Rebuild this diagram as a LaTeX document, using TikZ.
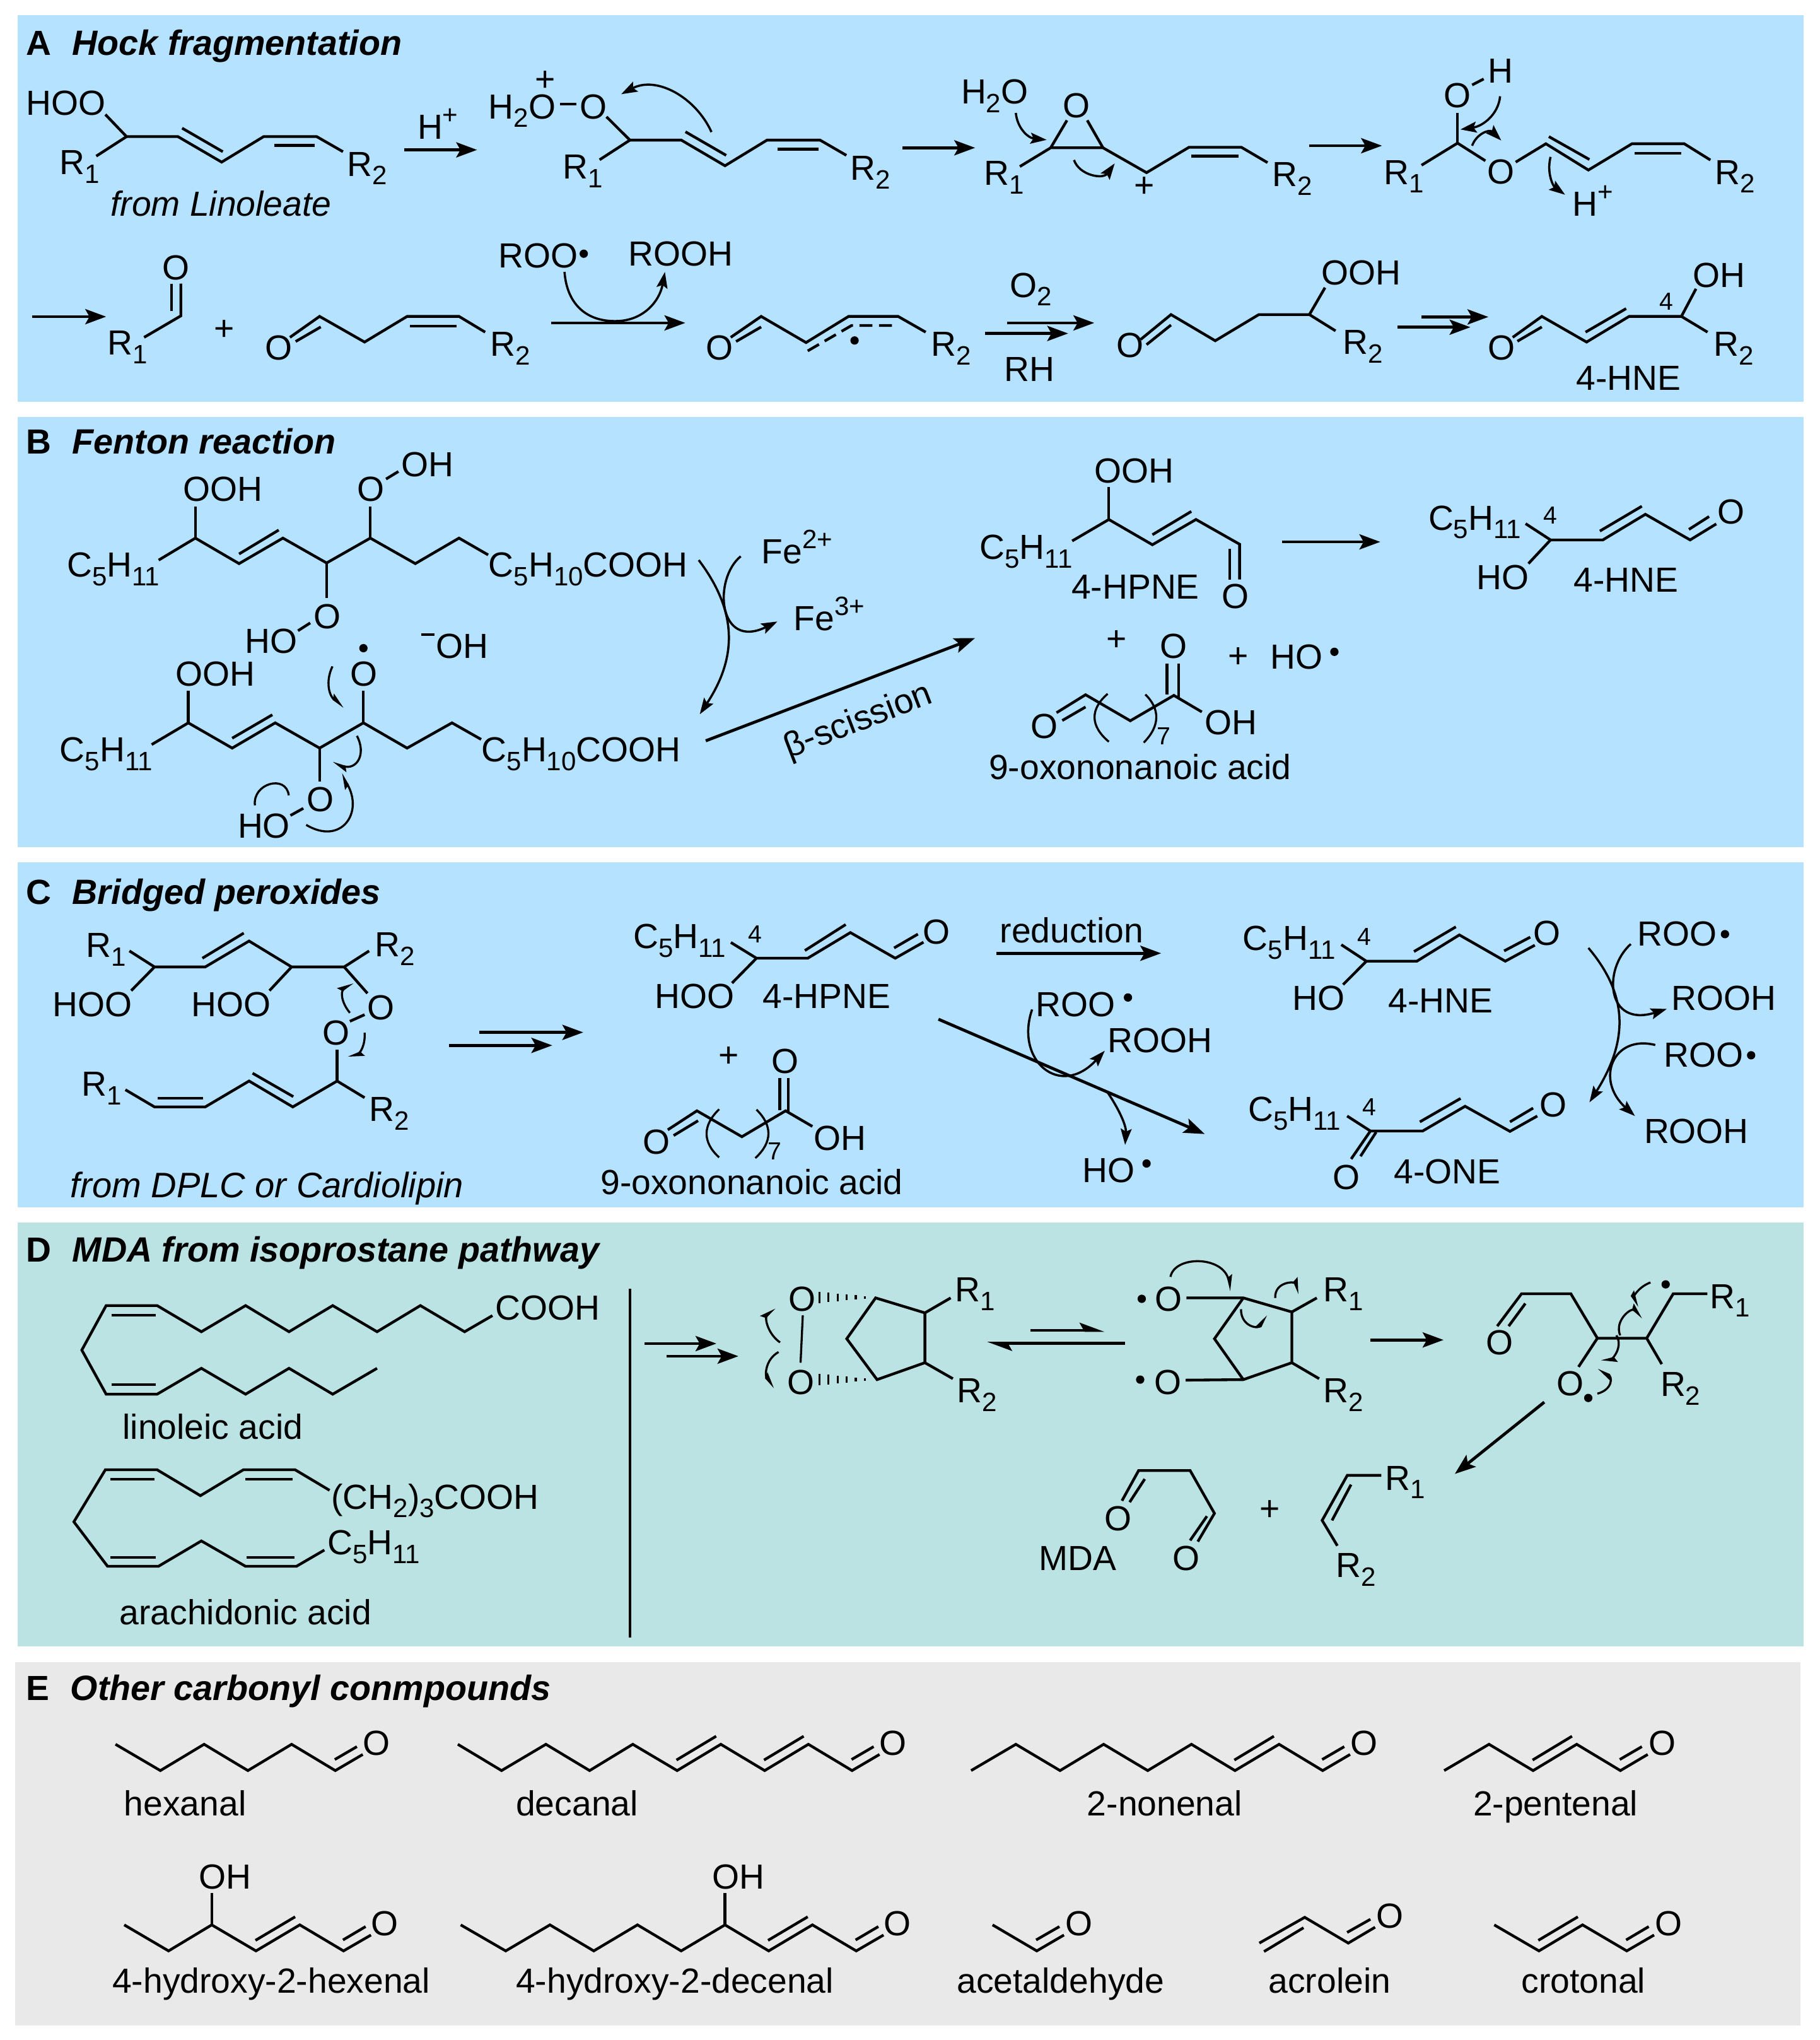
\documentclass[tikz,border=0pt]{standalone}
\usepackage{fontspec}
\setmainfont{Liberation Sans}
\usepackage{xcolor}
\usetikzlibrary{arrows.meta}
\definecolor{panelblue}{HTML}{B5E2FF}
\definecolor{panelteal}{HTML}{BBE3E3}
\definecolor{panelgray}{HTML}{E9E9E9}
\newcommand{\sbs}[1]{\raisebox{-3.3pt}{\fontsize{10.2}{10.2}\selectfont #1}}
\newcommand{\sps}[1]{\raisebox{5.8pt}{\fontsize{10.2}{10.2}\selectfont #1}}
\begin{document}
\begin{tikzpicture}[
    x=0.5pt, y=-0.5pt,
    font=\fontsize{13.4}{14}\selectfont,
    lab/.style={anchor=base west, inner sep=0pt, xshift=-0.7pt, yshift=-0.2pt},
    num/.style={anchor=base west, inner sep=0pt, font=\fontsize{9.5}{10}\selectfont},
    ttl/.style={anchor=base west, inner sep=0pt, xshift=-0.7pt, font=\fontsize{13.4}{14}\selectfont\bfseries},
    ttli/.style={anchor=base west, inner sep=0pt, xshift=-0.4pt, font=\fontsize{13.5}{14}\selectfont\bfseries\itshape},
    plus/.style={anchor=center, inner sep=0pt},
    rad/.style={circle, fill=black, inner sep=0pt, minimum size=3.2pt},
    bnd/.style={line width=1.05pt, line join=miter},
    rxn/.style={line width=1.15pt, -{Stealth[length=8pt,width=5.8pt,inset=1.6pt]}},
    eqm/.style={line width=1.15pt, -{Stealth[left,length=8pt,width=5.8pt,inset=1.6pt]}},
    curly/.style={line width=0.85pt, -{Stealth[length=6.2pt,width=4.2pt,inset=1.1pt]}},
    fish/.style={line width=0.8pt, -{Stealth[left,length=5pt,width=3.6pt,inset=0.8pt]}}
]
\useasboundingbox (0,0) rectangle (1398.8,1568);

% Panels
\fill[panelblue] (13.5,11.7) rectangle (1386.5,309);
\fill[panelblue] (13.5,320.5) rectangle (1386.5,651);
\fill[panelblue] (13.5,663) rectangle (1386.5,928);
\fill[panelteal] (13.5,939.8) rectangle (1386.5,1265.4);
\fill[panelgray] (11.7,1277.7) rectangle (1384.3,1556.8);

% Panel A, first row
\node[ttl] (letA) at (21,42.2) {A};
\node[ttli] (titleA) at (56,42.2) {Hock fragmentation};

\node[lab] (hooA) at (21,88) {HOO};
\node[lab] (r1A) at (47,133.7) {R\sbs{1}};
\node[lab] (r2A) at (268,135) {R\sbs{2}};
\node[lab, font=\fontsize{13.4}{14}\selectfont\itshape] (fromA) at (86,165.8) {from Linoleate};
\draw[bnd] (81,88) -- (97.3,105) -- (136.8,105) -- (170.4,124.6) -- (202.7,105) -- (243.5,105) -- (263.7,116.6);
\draw[bnd] (97.3,105) -- (74,120);
\draw[bnd] (140,98.5) -- (171.3,116.6);
\draw[bnd] (210.7,111.8) -- (242.1,111.8);

\node[lab] (hplus) at (322,106.5) {H\sps{+}};
\coordinate (a1s) at (310.8,115.2);
\coordinate (a1e) at (366.8,115.2);
\draw[rxn] (a1s) -- (a1e);

\node[lab] (h2oB) at (376.7,90.9) {H\sbs{2}O};
\node[lab] (oB) at (447,90.9) {O};
\node[plus] (plusB) at (419.3,62.3) {+};
\node[lab] (r1B) at (433.6,137) {R\sbs{1}};
\node[lab] (r2B) at (654.7,138) {R\sbs{2}};
\draw[bnd] (430.5,80) -- (443,80);
\draw[bnd] (466.3,89.8) -- (484.3,107.7) -- (523.8,107.7) -- (557.4,127.4) -- (589.7,107.7) -- (630.5,107.7) -- (650.7,119.4);
\draw[bnd] (484.3,107.7) -- (461,122.8);
\draw[bnd] (527,101.3) -- (558.3,119.4);
\draw[bnd] (597.7,114.6) -- (629.1,114.6);
\draw[curly] (547,101.5) .. controls (535,75) and (505,58) .. (477.6,72.4);

\coordinate (a2s) at (694,113.6);
\coordinate (a2e) at (749.7,113.6);
\draw[rxn] (a2s) -- (a2e);

\node[lab] (h2oC) at (739.9,79.4) {H\sbs{2}O};
\node[lab] (oC) at (818,89.8) {O};
\node[plus] (plusC) at (880,143.7) {+};
\node[lab] (r1C) at (757.7,142) {R\sbs{1}};
\node[lab] (r2C) at (979,143) {R\sbs{2}};
\draw[bnd] (784.1,128) -- (807.8,113.6) -- (848,113.6) -- (881.5,132.7) -- (914.1,113.2) -- (954.4,113.2) -- (974.5,125);
\draw[bnd] (820.3,92.5) -- (807.8,113.6);
\draw[bnd] (835.9,92.5) -- (848,113.6);
\draw[bnd] (915.9,120) -- (952.1,120);
\draw[curly] (781,86.8) .. controls (782,98) and (790,106) .. (804.7,107.5);
\draw[curly] (825.7,123) .. controls (830,135) and (848,138) .. (857,125.6);

\coordinate (a3s) at (1006.7,112);
\coordinate (a3e) at (1062.5,112);
\draw[rxn] (a3s) -- (a3e);

\node[lab] (oD) at (1111.2,82.4) {O};
\node[lab] (hD) at (1145.2,63.5) {H};
\node[lab] (o2D) at (1144.3,141) {O};
\node[lab] (r1D) at (1064.8,141.3) {R\sbs{1}};
\node[lab] (r2D) at (1319.5,141.3) {R\sbs{2}};
\node[lab] (hplusD) at (1210,165.8) {H\sps{+}};
\draw[bnd] (1092.9,127) -- (1120.6,110) -- (1142,123.6);
\draw[bnd] (1120.6,86.8) -- (1120.6,110);
\draw[bnd] (1131.8,65.3) -- (1140.7,60.7);
\draw[bnd] (1165.3,124.6) -- (1188.5,110.5) -- (1221.2,130.7) -- (1254.7,110.5) -- (1294.9,110.5) -- (1315,123);
\draw[bnd] (1190.8,105) -- (1222,122.6);
\draw[bnd] (1256.9,117.8) -- (1292.7,117.8);
\draw[curly] (1153.3,74) .. controls (1152,88) and (1140,97) .. (1122.8,99.5);
\draw[curly] (1131.8,112) .. controls (1135,103) and (1145,99) .. (1154.2,108);
\draw[curly] (1192.1,120.6) .. controls (1189,133) and (1194,143) .. (1203.3,149.7);

% Panel A, second row
\coordinate (a4s) at (24.7,243.4);
\coordinate (a4e) at (81.6,243.4);
\draw[rxn] (a4s) -- (a4e);

\node[lab] (oE) at (126,214.7) {O};
\node[lab] (r1E) at (83.9,272.4) {R\sbs{1}};
\draw[bnd] (139,218) -- (139,242.8) -- (110.8,259.3);
\draw[bnd] (131.8,218) -- (131.8,238.8);
\node[plus] (plusE) at (172.6,253.7) {+};

\node[lab] (oF) at (205,276.4) {O};
\node[lab] (r2F) at (378,273.4) {R\sbs{2}};
\draw[bnd] (222.9,259.3) -- (245.7,243.2) -- (280.3,262.9) -- (313,243.2) -- (352.9,243.2) -- (373,255.3);
\draw[bnd] (227.3,262.5) -- (246.6,251.3);
\draw[bnd] (315.2,250.6) -- (351.1,250.6);

\node[lab] (rooG) at (384.3,205.4) {ROO};
\node[rad] (radG) at (448.8,195) {};
\node[lab] (roohG) at (484.3,204) {ROOH};
\coordinate (a5s) at (423.7,248.2);
\coordinate (a5e) at (526.9,248.2);
\draw[rxn] (a5s) -- (a5e);
\draw[curly] (434,209) .. controls (436,235) and (452,247) .. (473,246.8) .. controls (494,247) and (507,232) .. (511.2,209);

\node[lab] (oH) at (544,276.4) {O};
\node[rad] (radH) at (657,261.7) {};
\node[lab] (r2H) at (717,273.4) {R\sbs{2}};
\draw[bnd] (561.8,259.3) -- (585.2,243.2) -- (619.7,263.3) -- (652.4,243.2) -- (690.5,243.2) -- (711.7,255.3);
\draw[bnd] (565.9,262.5) -- (585.2,251.3);
\draw[bnd, dashed, dash pattern=on 5pt off 2.5pt] (621,269.7) -- (654.7,250.2) -- (690.5,250.2);

\node[lab] (o2lab) at (777.4,228) {O\sbs{2}};
\node[lab] (rhlab) at (773,292.5) {RH};
\coordinate (a6s) at (774.3,248.2);
\coordinate (a6e) at (841.3,248.2);
\coordinate (a7s) at (757.3,256.3);
\coordinate (a7e) at (821.2,256.3);
\draw[rxn] (a6s) -- (a6e);
\draw[rxn] (a7s) -- (a7e);

\node[lab] (oI) at (859.2,274.4) {O};
\node[lab] (oohI) at (1017,218.7) {OOH};
\node[lab] (r2I) at (1033.5,272) {R\sbs{2}};
\draw[bnd] (877,260.9) -- (900.3,241.8) -- (934.3,261.9) -- (967.8,241.8) -- (1006.7,241.8) -- (1026.8,254.3);
\draw[bnd] (1006.7,241.8) -- (1018.7,221.1);
\draw[bnd] (881.5,264.9) -- (900.3,249.8);

\coordinate (a8s) at (1093,243.6);
\coordinate (a8e) at (1144.3,243.6);
\coordinate (a9s) at (1074.6,251.5);
\coordinate (a9e) at (1130.5,251.5);
\draw[rxn] (a8s) -- (a8e);
\draw[rxn] (a9s) -- (a9e);

\node[lab] (oJ) at (1144.8,276) {O};
\node[lab] (ohJ) at (1302.5,220.3) {OH};
\node[num] (fourJ) at (1275.7,238.2) {4};
\node[lab] (r2J) at (1318.6,273.4) {R\sbs{2}};
\node[lab] (hneJ) at (1213,299.5) {4-HNE};
\draw[bnd] (1163,259.3) -- (1185.4,243.2) -- (1219.8,262.9) -- (1252.5,243.2) -- (1292.7,243.2) -- (1312.8,255.3);
\draw[bnd] (1292.7,243.2) -- (1303.9,222);
\draw[bnd] (1166.6,262.3) -- (1185.4,251.3);
\draw[bnd] (1219,255.3) -- (1250.2,237.2);

% Panel B
\node[ttl] (letB) at (21,349) {B};
\node[ttli] (titleB) at (56,349) {Fenton reaction};

\node[lab] (c5Ka) at (52.5,443.2) {C\sbs{5}H\sbs{11}};
\node[lab] (oohKa) at (141.7,384.9) {OOH};
\node[lab] (oKa) at (275.8,384.9) {O};
\node[lab] (ohKa) at (309.4,365.7) {OH};
\node[lab] (oKb) at (242,482.6) {O};
\node[lab] (hoKb) at (189.2,501.7) {HO};
\node[lab] (tailKa) at (376.7,443.2) {C\sbs{5}H\sbs{10}COOH};
\draw[bnd] (122,430.5) -- (150.2,413.6) -- (183.8,433.2) -- (217.5,413.6) -- (251.1,432.7) -- (284.7,413.6) -- (319.3,433.2) -- (352.9,413.6) -- (375.3,426.5);
\draw[bnd] (183.8,425.8) -- (214.3,407.4);
\draw[bnd] (150.2,413.6) -- (150.2,389.1);
\draw[bnd] (284.7,413.6) -- (284.7,389.1);
\draw[bnd] (296.8,368.2) -- (306.3,362.4);
\draw[bnd] (251.1,432.7) -- (251.1,459.4);
\draw[bnd] (238.5,478.8) -- (229.1,484.8);

\node[lab] (fe2) at (586.5,432.7) {Fe\sps{2+}};
\node[lab] (fe3) at (611.2,484) {Fe\sps{3+}};
\draw[curly] (537.2,430.5) .. controls (567,470) and (567,505) .. (538,549);
\draw[curly] (569.5,427.6) .. controls (548,445) and (552,500) .. (597.7,477.7);

\node[lab] (ohM) at (336.3,505.5) {OH};
\draw[bnd] (323.7,487.7) -- (334,487.7);
\node[rad] (radL) at (279.4,498.2) {};

\node[lab] (c5La) at (47,585.2) {C\sbs{5}H\sbs{11}};
\node[lab] (oohLa) at (135.9,526.7) {OOH};
\node[lab] (oLa) at (270.4,526.7) {O};
\node[lab] (oLb) at (236.8,623.5) {O};
\node[lab] (hoLb) at (183.8,643.5) {HO};
\node[lab] (tailLa) at (371.3,585.2) {C\sbs{5}H\sbs{10}COOH};
\draw[bnd] (116.6,572.3) -- (144.8,555.6) -- (178.5,575) -- (211.6,555.6) -- (245.7,575) -- (279.4,555.6) -- (313,575) -- (347.5,555.6) -- (369.9,568.3);
\draw[bnd] (178.5,567.4) -- (209.4,549.4);
\draw[bnd] (144.8,555.6) -- (144.8,531);
\draw[bnd] (279.4,555.6) -- (279.4,531);
\draw[bnd] (245.7,575) -- (245.7,600.8);
\draw[bnd] (233.2,621.3) -- (223.3,626.8);
\draw[fish] (255.6,512.2) .. controls (250,524) and (253,535) .. (264.6,543.4);
\draw[fish] (274.4,565.6) .. controls (282,580) and (274,592) .. (255.6,586.3);
\draw[fish] (235.4,634) .. controls (262,650) and (280,625) .. (262.3,594.6);
\draw[line width=0.8pt] (196,619) .. controls (194,602) and (220,595) .. (222,611.3);

\coordinate (a10s) at (542.6,569.4);
\coordinate (a10e) at (749.7,490.4);
\draw[rxn] (a10s) -- (a10e);
\node[anchor=center, inner sep=0pt, rotate=21] (betaN) at (660,555) {β-scission};

\node[lab] (c5N) at (754.2,429.4) {C\sbs{5}H\sbs{11}};
\node[lab] (oohN) at (842.6,370.9) {OOH};
\node[lab] (hpneN) at (824.8,459.9) {4-HPNE};
\node[lab] (oN) at (940.5,467.2) {O};
\draw[bnd] (824.3,415.8) -- (852.5,399.3) -- (886,418.7) -- (919.5,399.3) -- (953,418.3) -- (953,445.4);
\draw[bnd] (945.4,422) -- (945.4,445.4);
\draw[bnd] (886,411) -- (915.9,393.1);
\draw[bnd] (852.5,399.3) -- (852.5,374.4);

\coordinate (a11s) at (985.7,416.5);
\coordinate (a11e) at (1061.2,416.5);
\draw[rxn] (a11s) -- (a11e);

\node[lab] (c5P) at (1099.2,406.9) {C\sbs{5}H\sbs{11}};
\node[num] (fourP) at (1186.3,402.5) {4};
\node[lab] (hoP) at (1136.3,452.8) {HO};
\node[lab] (oP) at (1321.7,402.5) {O};
\node[lab] (hneP) at (1210.9,454.8) {4-HNE};
\draw[bnd] (1172.9,402.5) -- (1192.1,415) -- (1232.3,415) -- (1265,395.3) -- (1299.4,415) -- (1319.5,402.7);
\draw[bnd] (1192.1,415) -- (1175.1,433.2);
\draw[bnd] (1298.5,406.9) -- (1314,397);
\draw[bnd] (1230,408.2) -- (1262.3,389.1);

\node[plus] (plusQ) at (858.3,492.2) {+};
\node[lab] (oQa) at (892.7,505.5) {O};
\node[lab] (oQb) at (793.5,567.2) {O};
\node[lab] (ohQ) at (927.1,564) {OH};
\node[num] (sevenQ) at (889.1,572.3) {7};
\node[lab] (acidQ) at (761.3,598.6) {9-oxononanoic acid};
\draw[bnd] (812.3,547.8) -- (834.6,534) -- (869,554) -- (902.5,534.5) -- (924,547.2);
\draw[bnd] (816.7,553.8) -- (834.6,543.4);
\draw[bnd] (897.2,510) -- (897.2,534);
\draw[bnd] (906.1,510) -- (906.1,536);
\draw[line width=0.8pt] (851.6,533.3) .. controls (838,545) and (838,558) .. (852.5,570.1);
\draw[line width=0.8pt] (880.6,533.8) .. controls (892,545) and (892,558) .. (879.3,570.8);
\node[plus] (plusR) at (952.1,505.5) {+};
\node[lab] (hoR) at (977.6,514) {HO};
\node[rad] (radR) at (1025.9,501) {};

% Panel C
\node[ttl] (letC) at (21,694.8) {C};
\node[ttli] (titleC) at (56,694.8) {Bridged peroxides};

\node[lab] (r1S) at (67.3,735.3) {R\sbs{1}};
\node[lab] (r2S) at (289.2,735) {R\sbs{2}};
\node[lab] (hooSa) at (41.3,780.8) {HOO};
\node[lab] (hooSb) at (148,780.8) {HOO};
\node[lab] (oSa) at (283.4,783.3) {O};
\node[lab] (oSb) at (248.9,802.7) {O};
\draw[bnd] (99.5,730.9) -- (118.8,743.2) -- (157.8,743.2) -- (191.5,723.3) -- (224.2,743.2) -- (264.6,743.2) -- (283.8,730.9);
\draw[bnd] (155.6,736.5) -- (187.4,717.2);
\draw[bnd] (118.8,743.2) -- (100.9,761.4);
\draw[bnd] (224.2,743.2) -- (207.2,761.4);
\draw[bnd] (264.6,743.2) -- (282.5,763.5);
\draw[bnd] (280.3,779.9) -- (269,785);
\draw[bnd] (259.2,806.7) -- (259.2,830.9);
\draw[fish] (269,778.5) .. controls (262,770) and (262,762) .. (271.3,755.2);
\draw[fish] (280.3,793.8) .. controls (281,803) and (277,809) .. (267.7,812.9);

\node[lab] (r1T) at (63.7,842) {R\sbs{1}};
\node[lab] (r2T) at (284.7,861.4) {R\sbs{2}};
\node[lab, font=\fontsize{13.6}{14}\selectfont\itshape] (fromT) at (55.2,920) {from DPLC or Cardiolipin};
\draw[bnd] (96.4,837.6) -- (118.8,850.8) -- (157.8,850.8) -- (191.5,830.9) -- (225.1,850.8) -- (259.2,830.9) -- (280.3,843.7);
\draw[bnd] (194.2,824.9) -- (225.5,842.9);
\draw[bnd] (121.1,844) -- (156,844);

\coordinate (a12s) at (368.6,793.5);
\coordinate (a12e) at (448.4,793.5);
\coordinate (a13s) at (345.3,803.5);
\coordinate (a13e) at (424.6,803.5);
\draw[rxn] (a12s) -- (a12e);
\draw[rxn] (a13s) -- (a13e);

\node[lab] (c5U) at (487.9,728.6) {C\sbs{5}H\sbs{11}};
\node[num] (fourU) at (574.8,724.4) {4};
\node[lab] (hooU) at (504.5,774.5) {HOO};
\node[lab] (hpneU) at (587.4,774.5) {4-HPNE};
\node[lab] (oU) at (710.4,725) {O};
\draw[bnd] (561.9,724.4) -- (581.6,736.5) -- (621,736.5) -- (653.8,716.8) -- (688.3,736.5) -- (710,724.2);
\draw[bnd] (581.6,736.5) -- (562.8,755.6);
\draw[bnd] (618.8,730.6) -- (650.2,710.6);
\draw[bnd] (687.4,728.6) -- (705.7,718);

\node[plus] (plusV) at (560.5,812.5) {+};
\node[lab] (oVa) at (594.1,824.7) {O};
\node[lab] (oVb) at (495.5,886.4) {O};
\node[lab] (ohV) at (626.9,883.8) {OH};
\node[num] (sevenV) at (589.7,891.3) {7};
\node[lab] (acidV) at (462.8,917.8) {9-oxononanoic acid};
\draw[bnd] (513.4,868.4) -- (535.8,853.8) -- (570.4,873.7) -- (604,853.8) -- (624.6,865.8);
\draw[bnd] (517.9,872.8) -- (536.7,861.4);
\draw[bnd] (599.5,828.7) -- (599.5,853.4);
\draw[bnd] (606.2,828.7) -- (606.2,855);
\draw[line width=0.8pt] (552.9,852.6) .. controls (540,865) and (540,878) .. (552.9,889.6);
\draw[line width=0.8pt] (581.6,852.9) .. controls (594,865) and (594,878) .. (580.7,890.1);

\node[lab] (redlab) at (769.8,724.4) {reduction};
\coordinate (a14s) at (766.2,732.7);
\coordinate (a14e) at (892.7,732.7);
\draw[rxn] (a14s) -- (a14e);

\node[lab] (rooW) at (797.5,781.1) {ROO};
\node[rad] (radW) at (867.2,766.7) {};
\node[lab] (roohW) at (852.5,808.5) {ROOH};
\node[lab] (hoW) at (833.3,908.6) {HO};
\node[rad] (radWb) at (881.5,894.3) {};
\coordinate (a15s) at (721.5,783.4);
\coordinate (a15e) at (926.2,871.6);
\draw[rxn] (a15s) -- (a15e);
\draw[curly] (793.5,775.9) .. controls (780,815) and (815,845) .. (849.4,807.6);
\draw[curly] (851.1,839) .. controls (860,852) and (866,865) .. (865,880);

\node[lab] (c5X) at (956.6,730) {C\sbs{5}H\sbs{11}};
\node[num] (fourX) at (1043.3,726.5) {4};
\node[lab] (hoX) at (994.6,775.9) {HO};
\node[lab] (hneX) at (1068.3,778) {4-HNE};
\node[lab] (oX) at (1180,726.1) {O};
\draw[bnd] (1031.2,726.1) -- (1050.5,738.8) -- (1089.3,738.8) -- (1122,718.6) -- (1157.3,738.8) -- (1180,726.5);
\draw[bnd] (1050.5,738.8) -- (1032.6,756.8);
\draw[bnd] (1087.1,731.4) -- (1119.3,712.4);
\draw[bnd] (1156.4,730.9) -- (1176.5,720.3);

\node[lab] (c5Y) at (960.6,861.4) {C\sbs{5}H\sbs{11}};
\node[num] (fourY) at (1046.9,857.3) {4};
\node[lab] (oYa) at (1025.9,914) {O};
\node[lab] (oneY) at (1072.8,909.3) {4-ONE};
\node[lab] (oYb) at (1184.5,858.2) {O};
\draw[bnd] (1035.7,857.8) -- (1053.6,869.3) -- (1093.8,869.3) -- (1126.4,850.3) -- (1160.9,869.6) -- (1181.9,857.8);
\draw[bnd] (1091.6,862.3) -- (1122.9,844.3);
\draw[bnd] (1160.9,862.3) -- (1178.7,851.7);
\draw[bnd] (1053.6,869.3) -- (1038.8,890.8);
\draw[bnd] (1058,870.2) -- (1046,888.7);

\node[lab] (rooZa) at (1260,726.5) {ROO};
\node[rad] (radZa) at (1326.2,718) {};
\node[lab] (roohZa) at (1286,775.9) {ROOH};
\node[lab] (rooZb) at (1280.2,819.6) {ROO};
\node[rad] (radZb) at (1346.3,811.1) {};
\node[lab] (roohZb) at (1265,878.6) {ROOH};
\draw[curly] (1221.2,728.6) .. controls (1252,765) and (1252,800) .. (1222,847.3);
\draw[curly] (1253.8,725.6) .. controls (1232,745) and (1235,790) .. (1281.5,775.5);
\draw[curly] (1272.6,803.2) .. controls (1240,795) and (1226,830) .. (1257,857.8);

% Panel D
\node[ttl] (letD) at (21,969.9) {D};
\node[ttli] (titleD) at (56,969.9) {MDA from isoprostane pathway};

\node[lab] (cooh1) at (382,1014.3) {COOH};
\node[lab] (lino) at (95.3,1105.9) {linoleic acid};
\draw[bnd] (378.6,1011.2) -- (357.2,1023.6) -- (323.2,1003.5) -- (289.9,1023.6) -- (255.8,1003.5) -- (222.2,1023.6) -- (188.8,1003.5) -- (154.8,1023.6) -- (120.8,1003.5) -- (81.6,1003.5) -- (62.9,1037.7) -- (81.6,1071.6) -- (120.8,1071.6) -- (154.8,1051.7) -- (188.8,1071.6) -- (222.2,1051.7) -- (255.8,1071.6) -- (289.9,1051.7);
\draw[bnd] (85.7,1011) -- (119.7,1011);
\draw[bnd] (85.7,1064.3) -- (119.7,1064.3);

\node[lab] (cooh2) at (255.8,1159.5) {(CH\sbs{2})\sbs{3}COOH};
\node[lab] (c5arach) at (252.8,1194.6) {C\sbs{5}H\sbs{11}};
\node[lab] (arach) at (92.9,1248.1) {arachidonic acid};
\draw[bnd] (253.4,1145.5) -- (226.9,1129.7) -- (187.1,1129.7) -- (154.1,1149.6) -- (120.8,1129.7) -- (81,1129.7) -- (56.8,1169.7) -- (82.7,1203.9) -- (121.8,1203.9) -- (154.8,1184.4) -- (188.8,1203.9) -- (227.9,1203.9) -- (249.4,1191.4);
\draw[bnd] (85,1136.8) -- (119,1136.8);
\draw[bnd] (188.8,1136.8) -- (225.2,1136.8);
\draw[bnd] (85,1197) -- (119.7,1197);
\draw[bnd] (189.8,1197) -- (226.2,1197);

\coordinate (sepa) at (484.5,990.5);
\coordinate (sepb) at (484.5,1258.5);
\draw[bnd] (sepa) -- (sepb);

\coordinate (a16s) at (495.4,1032.7);
\coordinate (a16e) at (550.8,1032.7);
\coordinate (a17s) at (512.3,1042.4);
\coordinate (a17e) at (567.7,1042.4);
\draw[rxn] (a16s) -- (a16e);
\draw[rxn] (a17s) -- (a17e);

\node[lab] (oAa) at (607.3,1007.3) {O};
\node[lab] (oAb) at (606.1,1071.2) {O};
\node[lab] (r1Aa) at (735.5,1000.2) {R\sbs{1}};
\node[lab] (r2Aa) at (736.7,1077.7) {R\sbs{2}};
\draw[line width=0.8pt] (617.2,1011) -- (615.5,1047.4);
\draw[bnd] (673.2,997.6) -- (711.1,1009.1) -- (711.1,1047.4) -- (674.3,1060.4) -- (651,1029) -- cycle;
\draw[bnd] (711.1,1009.1) -- (730.9,997.6);
\draw[bnd] (711.1,1047.4) -- (732.6,1059.7);
% hashed bonds to the ring
\foreach \hx/\hh in {630/4.4,637/3.7,644/3,651/2.3,658/1.6,665/0.9} {
    \draw[line width=0.8pt] (\hx,{997.2-\hh}) -- (\hx,{997.2+\hh});
    \draw[line width=0.8pt] (\hx,{1060.4-\hh}) -- (\hx,{1060.4+\hh});
}
\draw[fish] (599.7,1031.8) .. controls (590,1025) and (588,1013) .. (595.6,1005.2);
\draw[fish] (598.6,1039.2) .. controls (588,1045) and (588,1058) .. (595.6,1066.5);

\coordinate (a18s) at (792.1,1022.5);
\coordinate (a18e) at (849.2,1022.5);
\coordinate (a19s) at (865,1032.5);
\coordinate (a19e) at (758.9,1032.5);
\draw[eqm] (a18s) -- (a18e);
\draw[eqm] (a19s) -- (a19e);

\node[rad] (radBa) at (877.8,998.3) {};
\node[lab] (oBa) at (888.9,1007.3) {O};
\node[rad] (radBb) at (876.6,1060.4) {};
\node[lab] (oBb) at (888.3,1071.2) {O};
\node[lab] (r1Bb) at (1018.3,1000.2) {R\sbs{1}};
\node[lab] (r2Bb) at (1018.3,1077.7) {R\sbs{2}};
\draw[bnd] (912.2,997.6) -- (955.9,997.6) -- (993.2,1008.4) -- (993.2,1047.4) -- (955.9,1060.4) -- (911.6,1060.8);
\draw[bnd] (955.9,997.6) -- (933.7,1029) -- (955.9,1060.4);
\draw[bnd] (993.2,1008.4) -- (1012.4,997.6);
\draw[bnd] (993.2,1047.4) -- (1014.2,1059.7);
\draw[fish] (899.9,981.4) .. controls (903,965) and (940,965) .. (946.6,992.2);
\draw[fish] (980.4,997.6) .. controls (980,985) and (995,985) .. (999,994.4);
\draw[fish] (954.1,1006.3) .. controls (954,1020) and (968,1022) .. (973.4,1010.6);

\coordinate (a20s) at (1053.8,1029.9);
\coordinate (a20e) at (1109.8,1029.9);
\draw[rxn] (a20s) -- (a20e);

\node[lab] (oCa) at (1143.6,1040.9) {O};
\node[lab] (oCb) at (1197.8,1072.3) {O};
\node[rad] (radCb) at (1221.1,1074.5) {};
\node[rad] (radCa) at (1280.6,987.2) {};
\node[lab] (r1Cc) at (1315.5,1005.2) {R\sbs{1}};
\node[lab] (r2Cc) at (1277.6,1073) {R\sbs{2}};
\draw[bnd] (1151.1,1019.3) -- (1169.8,994.4) -- (1207.7,994.4) -- (1228.1,1028.6) -- (1266,1028.6) -- (1286.4,994.4) -- (1312.6,994.4);
\draw[bnd] (1172.7,1001.9) -- (1159.9,1019.3);
\draw[bnd] (1228.1,1028.6) -- (1213.6,1050.6);
\draw[bnd] (1266,1028.6) -- (1277.6,1048.5);
\draw[fish] (1268.9,985.7) .. controls (1258,990) and (1256,998) .. (1260.2,1004.1);
\draw[fish] (1245.6,1026.4) .. controls (1241,1015) and (1254,1005) .. (1263,1012.8);
\draw[fish] (1242.7,1026.4) .. controls (1248,1035) and (1240,1044) .. (1231,1046.3);
\draw[fish] (1228.1,1071.2) .. controls (1240,1068) and (1240,1058) .. (1228.1,1052.8);

\coordinate (a21s) at (1187.3,1077.7);
\coordinate (a21e) at (1118.5,1132.9);
\draw[rxn] (a21s) -- (a21e);

\node[lab] (oMa) at (850.4,1176.2) {O};
\node[lab] (oMb) at (902.8,1206.5) {O};
\node[lab] (mdalab) at (799.7,1206.5) {MDA};
\draw[bnd] (862.6,1153.5) -- (875.4,1130.3) -- (915,1130.3) -- (933.7,1163.2) -- (920.9,1184.9);
\draw[bnd] (880.1,1136.8) -- (868.5,1154.6);
\draw[bnd] (927.9,1165.4) -- (915,1184);
\node[plus] (plusM) at (976.3,1161) {+};
\node[lab] (r1M) at (1066,1144.8) {R\sbs{1}};
\node[lab] (r2M) at (1028.2,1211.9) {R\sbs{2}};
\draw[bnd] (1062,1134) -- (1035.8,1134) -- (1016.5,1168.6) -- (1028.2,1188.1);
\draw[bnd] (1038.7,1141.1) -- (1024.1,1168.6);

% Panel E
\node[ttl] (letE) at (21,1307) {E};
\node[ttli] (titleE) at (54.7,1307) {Other carbonyl conmpounds};

\node[lab] (oHex) at (279.8,1348.5) {O};
\node[lab] (hexlab) at (96.4,1395.2) {hexanal};
\draw[bnd] (88.8,1340.7) -- (123.3,1360.9) -- (156.9,1340.7) -- (190.6,1360.9) -- (224.2,1340.7) -- (257.8,1360.9) -- (278.9,1348.5);
\draw[bnd] (257.4,1352.4) -- (274.4,1342.5);

\node[lab] (oDec) at (677.1,1348.5) {O};
\node[lab] (declab) at (397.7,1395.2) {decanal};
\draw[bnd] (352,1340.7) -- (385.6,1360.9) -- (419.7,1340.7) -- (453.3,1360.9) -- (486.5,1340.7) -- (520.6,1360.9) -- (554.2,1340.7) -- (587.9,1360.9) -- (621.5,1340.7) -- (655.1,1360.9) -- (676.2,1348.5);
\draw[bnd] (520.1,1352.8) -- (550.6,1334.5);
\draw[bnd] (587.4,1352.8) -- (617.9,1334.5);
\draw[bnd] (654.7,1352.4) -- (671.7,1342.5);

\node[lab] (oNon) at (1039.3,1348.5) {O};
\node[lab] (nonlab) at (836.8,1395.2) {2-nonenal};
\draw[bnd] (746.6,1360.9) -- (781,1340.7) -- (815,1360.9) -- (848.5,1340.7) -- (882.4,1360.9) -- (916,1340.7) -- (949.5,1360.9) -- (983.4,1340.7) -- (1016.9,1360.9) -- (1038,1348.5);
\draw[bnd] (949,1352.8) -- (979.4,1334.5);
\draw[bnd] (1016.5,1352.4) -- (1033.5,1342.5);

\node[lab] (oPen) at (1268.5,1348.5) {O};
\node[lab] (penlab) at (1133.6,1395.2) {2-pentenal};
\draw[bnd] (1110.3,1360.9) -- (1144.8,1340.7) -- (1178.7,1360.9) -- (1212.2,1340.7) -- (1245.8,1360.9) -- (1266.8,1348.5);
\draw[bnd] (1178.3,1352.8) -- (1208.6,1334.5);
\draw[bnd] (1245.3,1352.4) -- (1262.3,1342.5);

\node[lab] (oHhx) at (286.1,1487.3) {O};
\node[lab] (ohHhx) at (153.8,1451.5) {OH};
\node[lab] (hhxlab) at (87.4,1531.6) {4-hydroxy-2-hexenal};
\draw[bnd] (95.5,1479.5) -- (129.6,1499.5) -- (162.8,1479.5) -- (196.8,1499.5) -- (230.5,1479.5) -- (264.1,1499.5) -- (285.2,1487.3);
\draw[bnd] (162.8,1479.5) -- (162.8,1455.2);
\draw[bnd] (196.4,1491.4) -- (226.9,1473.3);
\draw[bnd] (263.7,1491.1) -- (281.1,1480.8);

\node[lab] (oHde) at (680.7,1487.3) {O};
\node[lab] (ohHde) at (548.4,1451.5) {OH};
\node[lab] (hdelab) at (397.7,1531.6) {4-hydroxy-2-decenal};
\draw[bnd] (354.2,1479.5) -- (388.8,1499.5) -- (422.8,1479.5) -- (456.5,1499.5) -- (490.1,1479.5) -- (523.7,1499.5) -- (557.4,1479.5) -- (591,1499.5) -- (624.6,1479.5) -- (658.3,1499.5) -- (679.3,1487.3);
\draw[bnd] (557.4,1479.5) -- (557.4,1455.2);
\draw[bnd] (590.5,1491.4) -- (621,1473.3);
\draw[bnd] (657.8,1491.1) -- (675.3,1480.8);

\node[lab] (oAce) at (819.9,1487.3) {O};
\node[lab] (acelab) at (736.7,1531.6) {acetaldehyde};
\draw[bnd] (763.1,1479.5) -- (797.1,1499.5) -- (818,1487.3);
\draw[bnd] (796.6,1491.1) -- (814.5,1480.8);

\node[lab] (oAcr) at (1059,1481.3) {O};
\node[lab] (acrlab) at (976.3,1531.6) {acrolein};
\draw[bnd] (968.2,1493.5) -- (1003.1,1473.7) -- (1036.6,1493.5) -- (1057.2,1481.3);
\draw[bnd] (971.8,1500) -- (1002.2,1481.7);
\draw[bnd] (1035.7,1485.3) -- (1053.6,1475.2);

\node[lab] (oCro) at (1273.5,1487.3) {O};
\node[lab] (crolab) at (1170.7,1531.6) {crotonal};
\draw[bnd] (1148.8,1479.5) -- (1183.2,1499.5) -- (1216.7,1479.5) -- (1250.7,1499.5) -- (1271.7,1487.3);
\draw[bnd] (1182.7,1491.4) -- (1213.1,1473.3);
\draw[bnd] (1250.2,1491.1) -- (1267.6,1480.8);

\end{tikzpicture}
\end{document}
